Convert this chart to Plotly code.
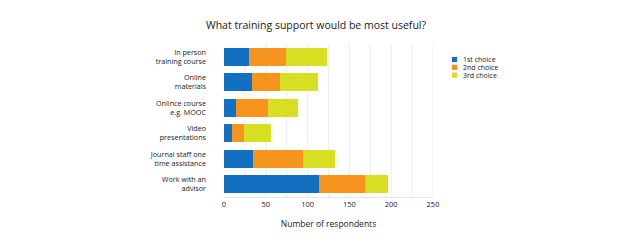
import plotly.graph_objects as go

categories = ["In person<br>training course", "Online<br>materials", "Onlince course<br>e.g. MOOC",
              "Video<br>presentations", "Journal staff one<br>time assistance", "Work with an<br>advisor"]
first = [30, 33, 14, 9, 35, 114]
second = [44, 34, 39, 15, 59, 55]
third = [49, 46, 36, 32, 39, 27]
series_names = ["1st choice", "2nd choice", "3rd choice"]
colors = ["#1170C1", "#F7941D", "#D7DF23"]

fig = go.Figure()
for name, vals, c in zip(series_names, [first, second, third], colors):
    fig.add_trace(go.Bar(y=categories, x=vals, name=name, orientation="h", showlegend=False,
                         marker=dict(color=c, line=dict(width=0)), width=0.7))

W, H = 617, 245
OFF = 8  # page body margin offset
L, R, T, B = 224 - OFF, 433 - OFF, 44 - OFF, 197 - OFF
fig.update_layout(
    width=W, height=H, barmode="stack",
    paper_bgcolor="white", plot_bgcolor="white",
    margin=dict(l=L, r=W - R, t=T, b=H - B, autoexpand=False),
    font=dict(family="Open Sans, sans-serif", size=7.5, color="#1a1a1a"),
    title=dict(text="What training support would be most useful?", x=(316 - OFF) / W, xref="container",
               y=1 - (25 - OFF) / H, yref="container", yanchor="middle", xanchor="center",
               font=dict(size=10.5, color="#1a1a1a")),
    xaxis=dict(range=[0, 250], tickvals=[0, 50, 100, 150, 200, 250],
               showgrid=False, zeroline=False, showline=True, linecolor="#e6e6e6",
               tickfont=dict(size=7.5),
               title=dict(text="Number of respondents", font=dict(size=8.5), standoff=13)),
    yaxis=dict(autorange="reversed", showgrid=False, zeroline=False, ticks="",
               ticklabelstandoff=17, tickfont=dict(size=7.2)),
    showlegend=False,
    bargap=0.3,
)
for v in range(25, 275, 25):
    fig.add_shape(type="line", x0=v, x1=v, y0=0, y1=1, xref="x", yref="paper",
                  line=dict(color="#ececec", width=1), layer="below")

# manual compact legend
for i, (name, c) in enumerate(zip(series_names, colors)):
    cy = 59.5 + i * 7.8 - OFF
    x0 = 452 - OFF
    fig.add_shape(type="rect", xref="paper", yref="paper",
                  x0=(x0 - L) / (R - L), x1=(x0 + 5 - L) / (R - L),
                  y0=1 - (cy + 2.6 - T) / (B - T), y1=1 - (cy - 2.6 - T) / (B - T),
                  fillcolor=c, line=dict(width=0))
    fig.add_annotation(xref="paper", yref="paper", x=(x0 + 9 - L) / (R - L),
                       y=1 - (cy - T) / (B - T), text=name, showarrow=False,
                       xanchor="left", yanchor="middle", font=dict(size=7, color="#1a1a1a"))

fig.write_html("out.html")
